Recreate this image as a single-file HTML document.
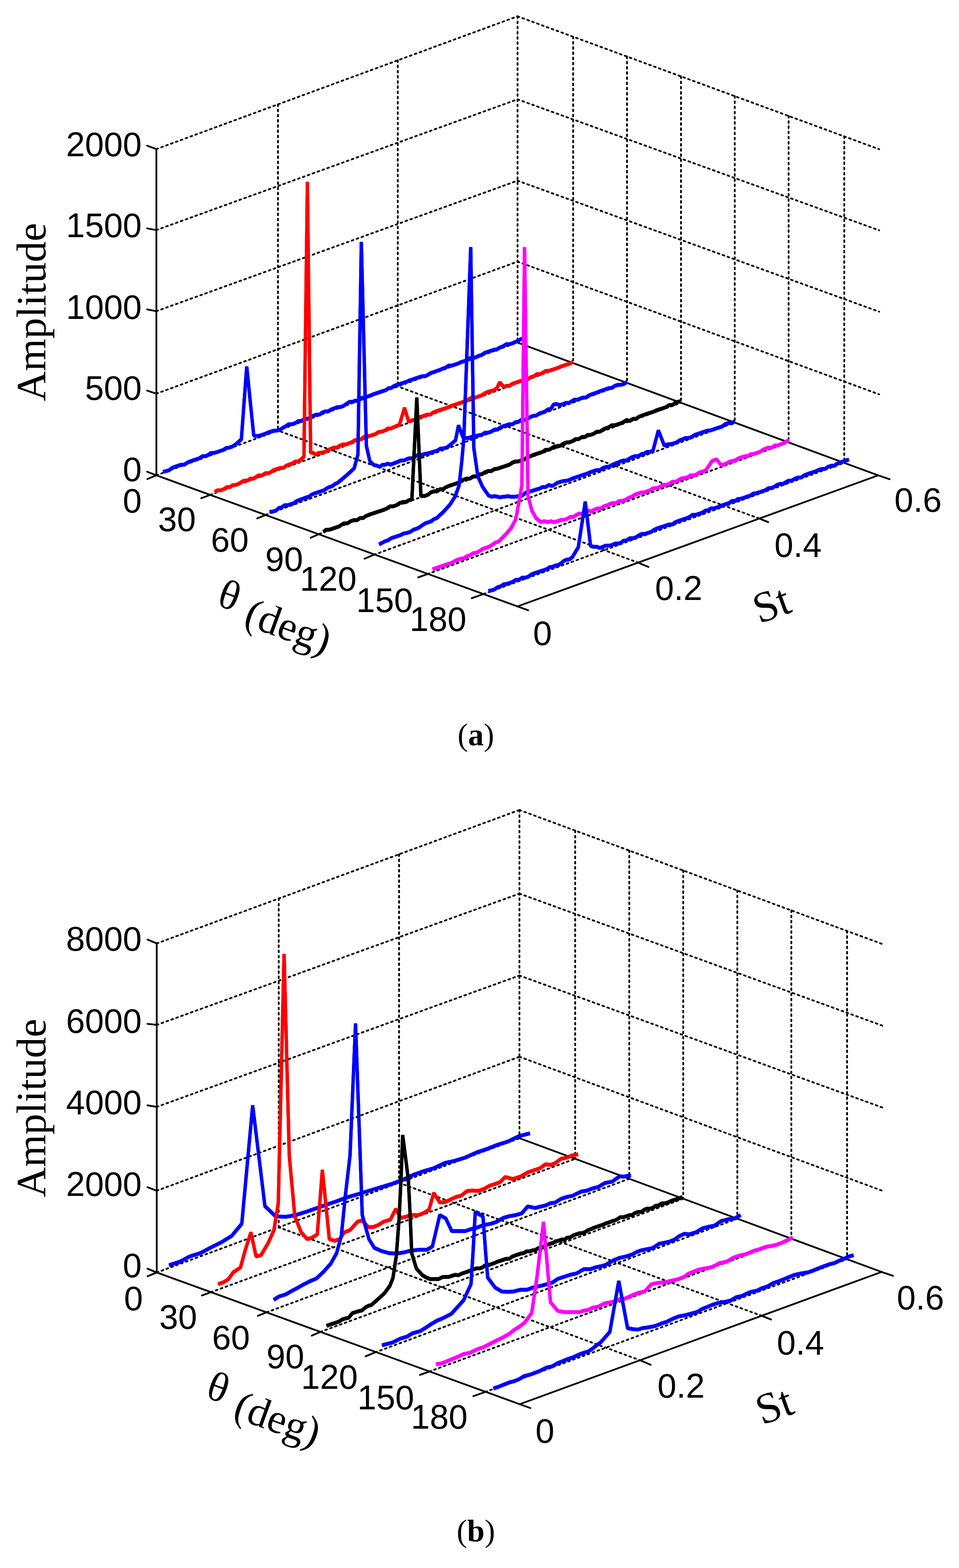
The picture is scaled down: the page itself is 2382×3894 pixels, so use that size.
<!DOCTYPE html>
<html lang="en"><head><meta charset="utf-8"><title>Amplitude spectra</title>
<style>
html,body{margin:0;padding:0;background:#fff}
svg{display:block}
.g{stroke:#000;stroke-width:4.4;stroke-dasharray:4.3 8.6;stroke-linecap:round;fill:none}
.a{stroke:#000;stroke-width:4.4;stroke-linecap:round;fill:none}
.k{fill:none;stroke-width:8.3;stroke-linejoin:bevel;stroke-linecap:butt}
.t{font-family:"Liberation Sans",sans-serif;font-size:84.5px;fill:#000}
.s{font-family:"Liberation Serif",serif;font-size:103.6px;fill:#000}
.c{font-family:"Liberation Serif",serif;font-size:78px;fill:#000}
</style></head>
<body>
<svg width="2382" height="3894" viewBox="0 0 2382 3894">
<rect width="2382" height="3894" fill="#fff"/>
<g id="plot-a">
<line x1="388.4" y1="1180.4" x2="1285.5" y2="850.5" class="g"/>
<line x1="388.4" y1="977.6" x2="1285.5" y2="649.7" class="g"/>
<line x1="388.4" y1="772.8" x2="1285.5" y2="448.7" class="g"/>
<line x1="388.4" y1="571.3" x2="1285.5" y2="246.7" class="g"/>
<line x1="388.4" y1="370.2" x2="1285.5" y2="40.5" class="g"/>
<line x1="1285.5" y1="649.7" x2="2183.6" y2="979.3" class="g"/>
<line x1="1285.5" y1="448.7" x2="2183.6" y2="774" class="g"/>
<line x1="1285.5" y1="246.7" x2="2183.6" y2="572" class="g"/>
<line x1="1285.5" y1="40.5" x2="2183.6" y2="370.6" class="g"/>
<line x1="690.4" y1="259.2" x2="690.4" y2="1069.2" class="g"/>
<line x1="988" y1="149.8" x2="988" y2="959.7" class="g"/>
<line x1="1285.5" y1="40.5" x2="1285.5" y2="850.5" class="g"/>
<line x1="1423.6" y1="91.3" x2="1423.6" y2="901.7" class="g"/>
<line x1="1557.4" y1="140.4" x2="1557.4" y2="950.9" class="g"/>
<line x1="1691.5" y1="189.7" x2="1691.5" y2="1000.3" class="g"/>
<line x1="1825" y1="238.8" x2="1825" y2="1049.4" class="g"/>
<line x1="1958.8" y1="288" x2="1958.8" y2="1098.6" class="g"/>
<line x1="2097" y1="338.8" x2="2097" y2="1149.5" class="g"/>
<line x1="522.5" y1="1228.9" x2="1423.6" y2="901.7" class="g"/>
<line x1="660.6" y1="1278.5" x2="1557.4" y2="950.9" class="g"/>
<line x1="793.2" y1="1326.1" x2="1691.5" y2="1000.3" class="g"/>
<line x1="929.2" y1="1377.5" x2="1825" y2="1049.4" class="g"/>
<line x1="1061.9" y1="1425.6" x2="1958.8" y2="1098.6" class="g"/>
<line x1="1201.5" y1="1475" x2="2097" y2="1149.5" class="g"/>
<line x1="1585.7" y1="1397.4" x2="690.4" y2="1069.2" class="g"/>
<line x1="1884.8" y1="1287.3" x2="988" y2="959.7" class="g"/>
<line x1="388.4" y1="370.2" x2="388.4" y2="1180.4" class="a"/>
<line x1="388.4" y1="1180.4" x2="1285.3" y2="1506" class="a"/>
<line x1="1285.3" y1="1506" x2="2181.3" y2="1180.5" class="a"/>
<line x1="1284.5" y1="850.5" x2="2181.3" y2="1180.5" class="a"/>
<line x1="388.4" y1="1180.4" x2="365.4" y2="1171.5" class="a"/>
<line x1="388.4" y1="977.6" x2="365.4" y2="970" class="a"/>
<line x1="388.4" y1="772.8" x2="365.4" y2="768.4" class="a"/>
<line x1="388.4" y1="571.3" x2="365.4" y2="567.2" class="a"/>
<line x1="388.4" y1="370.2" x2="365.4" y2="361.7" class="a"/>
<line x1="388.4" y1="1180.4" x2="365.9" y2="1189.7" class="a"/>
<line x1="522.5" y1="1228.9" x2="499.9" y2="1237.2" class="a"/>
<line x1="660.6" y1="1278.5" x2="638.6" y2="1287.5" class="a"/>
<line x1="793.2" y1="1326.1" x2="771.6" y2="1335.4" class="a"/>
<line x1="929.2" y1="1377.5" x2="905.3" y2="1387.5" class="a"/>
<line x1="1061.9" y1="1425.6" x2="1038.7" y2="1433.9" class="a"/>
<line x1="1201.5" y1="1475" x2="1171.6" y2="1485.6" class="a"/>
<line x1="1285.3" y1="1506" x2="1311.9" y2="1515.6" class="a"/>
<line x1="1585.7" y1="1397.4" x2="1610.6" y2="1408.1" class="a"/>
<line x1="1884.8" y1="1287.3" x2="1908" y2="1296.6" class="a"/>
<line x1="2181.3" y1="1180.5" x2="2209.6" y2="1190.1" class="a"/>
<g stroke="#0000ff" class="k"><path d="M404.8 1170.8L412.9 1169.2L420.9 1166.6L426.2 1162.1L434.1 1158.6L442 1156L450 1153.3L457.9 1153.3L465.9 1148L471.2 1145.4L479.1 1142.8L487 1140.1L495 1137.5L502.9 1132.2L510.9 1132.2L516.2 1129.5L524.1 1124.2L532 1124.2L540 1121.6L547.9 1118.9L555.9 1116.3L561.2 1111.8L569.1 1111L577 1108.3L585 1103.3L599.5 1090.2L612.8 909.8L630.2 1080.8L635.3 1081.9L643 1081.8L651.2 1079.2L658 1076.9L664.4 1073.9L672.3 1071.3L680.3 1068.6L688.2 1068.6L696.2 1066L704.1 1060.7L709.4 1058L717.3 1052.8L725.3 1052.8L733.2 1050.1L741.2 1044.8L749.1 1044.8L754.4 1040.3L762.3 1039.5L770.3 1036.9L778.2 1031.6L786.2 1028.9L794.1 1028.9L799.4 1024.4L807.3 1021L815.3 1021L823.2 1015.7L831.2 1013.1L836.5 1010.4L844.4 1010.4L852.3 1007.8L860.3 1002.5L868.2 997.2L876.2 997.2L881.5 994.5L889.4 994.5L897.3 987.8L905.3 986.6L913.2 983.9L921.2 981.3L926.4 978.6L934.4 976L942.3 973.3L950.3 970.7L958.2 968.1L966.2 962.8L971.4 962.8L979.4 957.5L987.3 954.8L995.3 952.2L1003.2 949.5L1011.2 946.9L1016.4 944.2L1024.4 941.6L1032.3 938.9L1040.3 936.3L1048.2 933.6L1056.2 933.6L1061.4 931L1069.4 925.7L1077.3 923.1L1085.3 920.4L1093.2 917.8L1098.5 915.1L1106.4 912.5L1114.4 907.2L1122.3 907.2L1130.3 904.5L1138.2 901.9L1143.5 899.2L1151.4 896.6L1159.4 893.9L1167.3 888.6L1175.3 888.6L1183.2 886L1188.5 883.3L1196.4 880.7L1204.4 875.4L1212.3 872.8L1220.3 870.1L1228.2 867.5L1233.5 867.5L1241.4 862.2L1249.4 859.5L1257.3 854.2L1265.3 854.2L1273.2 851.6L1278.5 848.9L1286.4 846.3L1294.4 841L1302 840.3"/><path d="M404.8 1172.3L412.9 1170.7L420.9 1168.1L426.2 1163.6L434.1 1160.1L442 1157.5L450 1154.8L457.9 1154.8L465.9 1149.5L471.2 1146.9L479.1 1144.3L487 1141.6L495 1139L502.9 1133.7L510.9 1133.7L516.2 1131L524.1 1125.7L532 1125.7L540 1123.1L547.9 1120.4L555.9 1117.8L561.2 1113.3L569.1 1112.5L577 1109.8L585 1104.8L599.5 1091.8L612.8 911.2L630.2 1082.2L635.3 1083.4L643 1083.2L651.2 1080.7L658 1078.4L664.4 1075.4L672.3 1072.8L680.3 1070.1L688.2 1070.1L696.2 1067.5L704.1 1062.2L709.4 1059.5L717.3 1054.3L725.3 1054.3L733.2 1051.6L741.2 1046.3L749.1 1046.3L754.4 1041.8L762.3 1041L770.3 1038.4L778.2 1033.1L786.2 1030.4L794.1 1030.4L799.4 1025.9L807.3 1022.5L815.3 1022.5L823.2 1017.2L831.2 1014.6L836.5 1011.9L844.4 1011.9L852.3 1009.3L860.3 1004L868.2 998.7L876.2 998.7L881.5 996L889.4 996L897.3 989.3L905.3 988.1L913.2 985.4L921.2 982.8L926.4 980.1L934.4 977.5L942.3 974.8L950.3 972.2L958.2 969.6L966.2 964.3L971.4 964.3L979.4 959L987.3 956.3L995.3 953.7L1003.2 951L1011.2 948.4L1016.4 945.7L1024.4 943.1L1032.3 940.4L1040.3 937.8L1048.2 935.1L1056.2 935.1L1061.4 932.5L1069.4 927.2L1077.3 924.6L1085.3 921.9L1093.2 919.3L1098.5 916.6L1106.4 914L1114.4 908.7L1122.3 908.7L1130.3 906L1138.2 903.4L1143.5 900.7L1151.4 898.1L1159.4 895.4L1167.3 890.1L1175.3 890.1L1183.2 887.5L1188.5 884.8L1196.4 882.2L1204.4 876.9L1212.3 874.3L1220.3 871.6L1228.2 869L1233.5 869L1241.4 863.7L1249.4 861L1257.3 855.7L1265.3 855.7L1273.2 853.1L1278.5 850.4L1286.4 847.8L1294.4 842.5L1302 841.8"/></g>
<g stroke="#ff0000" class="k"><path d="M533.6 1221.2L540 1216.9L547.9 1216.9L555.9 1214.2L563.8 1208.9L571.8 1208.9L577 1204.4L585 1203.6L592.9 1201L600.9 1195.7L606.2 1193L614.1 1193L622 1187.8L630 1187.8L637.9 1182.5L643.2 1179.8L651.2 1179.8L659.1 1174.5L667 1174.5L672.3 1171.9L680.3 1166.6L688.2 1163.9L696.2 1161.3L704.1 1161.3L709.4 1156.8L717.3 1153.3L725.3 1150.7L733.2 1145.4L740 1145.6L748 1140.2L755 1133.2L763.5 451.4L771.5 1123.2L778.2 1124.2L783 1127.8L791.5 1124.2L800 1123.3L807.3 1121.6L815.3 1116.3L823.2 1113.6L828.5 1111L836.5 1111L844.4 1105.7L852.3 1103L860.3 1103L865.6 1100.4L873.5 1097.8L881.5 1092.5L889.4 1092.5L897.3 1089.8L902.6 1085.3L910.6 1081.9L918.5 1081.9L926.4 1079.2L934.4 1076.6L939.7 1072.1L947.6 1071.3L955.6 1068.6L963.5 1063.3L971.4 1063.3L976.7 1060.7L985 1057L992 1054.2L1004.8 1012.2L1015 1045.8L1023 1043.2L1029.7 1042.2L1037.6 1036.9L1045.6 1034.2L1053.5 1031.6L1061.4 1028.9L1069.4 1028.9L1074.7 1024.4L1082.6 1021L1090.6 1018.3L1098.5 1015.7L1106.4 1013.1L1114.4 1010.4L1119.7 1007.8L1127.6 1005.1L1135.6 1002.5L1143.5 999.8L1151.4 997.2L1159.4 994.5L1164.7 990L1172.6 986.6L1180.6 986.6L1188.5 983.9L1196.4 981.3L1204.4 976L1209.7 973.3L1217.6 970.7L1226 968.9L1234 963.2L1241.5 948.8L1251 959.8L1259 957.4L1265.3 957.5L1273.2 952.2L1281.1 949.5L1289.1 946.9L1297 944.2L1305 941.6L1310.3 941.6L1318.2 936.3L1326.1 933.6L1334.1 928.3L1342 928.3L1347.3 925.7L1355.3 920.4L1363.2 920.4L1371.1 917.8L1379.1 915.1L1387 912.5L1392.3 909.8L1400.3 907.2L1408.2 904.5L1416.1 901.9L1423 898.2"/><path d="M533.6 1222.7L540 1218.4L547.9 1218.4L555.9 1215.7L563.8 1210.4L571.8 1210.4L577 1205.9L585 1205.1L592.9 1202.5L600.9 1197.2L606.2 1194.5L614.1 1194.5L622 1189.3L630 1189.3L637.9 1184L643.2 1181.3L651.2 1181.3L659.1 1176L667 1176L672.3 1173.4L680.3 1168.1L688.2 1165.4L696.2 1162.8L704.1 1162.8L709.4 1158.3L717.3 1154.8L725.3 1152.2L733.2 1146.9L740 1147.1L748 1141.8L755 1134.8L763.5 452.9L771.5 1124.8L778.2 1125.7L783 1129.2L791.5 1125.7L800 1124.8L807.3 1123.1L815.3 1117.8L823.2 1115.1L828.5 1112.5L836.5 1112.5L844.4 1107.2L852.3 1104.5L860.3 1104.5L865.6 1101.9L873.5 1099.3L881.5 1094L889.4 1094L897.3 1091.3L902.6 1086.8L910.6 1083.4L918.5 1083.4L926.4 1080.7L934.4 1078.1L939.7 1073.6L947.6 1072.8L955.6 1070.1L963.5 1064.8L971.4 1064.8L976.7 1062.2L985 1058.5L992 1055.8L1004.8 1013.8L1015 1047.2L1023 1044.7L1029.7 1043.7L1037.6 1038.4L1045.6 1035.7L1053.5 1033.1L1061.4 1030.4L1069.4 1030.4L1074.7 1025.9L1082.6 1022.5L1090.6 1019.8L1098.5 1017.2L1106.4 1014.6L1114.4 1011.9L1119.7 1009.3L1127.6 1006.6L1135.6 1004L1143.5 1001.3L1151.4 998.7L1159.4 996L1164.7 991.5L1172.6 988.1L1180.6 988.1L1188.5 985.4L1196.4 982.8L1204.4 977.5L1209.7 974.8L1217.6 972.2L1226 970.4L1234 964.8L1241.5 950.2L1251 961.2L1259 958.9L1265.3 959L1273.2 953.7L1281.1 951L1289.1 948.4L1297 945.7L1305 943.1L1310.3 943.1L1318.2 937.8L1326.1 935.1L1334.1 929.8L1342 929.8L1347.3 927.2L1355.3 921.9L1363.2 921.9L1371.1 919.3L1379.1 916.6L1387 914L1392.3 911.3L1400.3 908.7L1408.2 906L1416.1 903.4L1423 899.7"/></g>
<g stroke="#0000ff" class="k"><path d="M669.5 1270L677.6 1269.8L685.6 1267.2L693.5 1260.4L700 1259.3L706.7 1253.9L714.7 1253.9L722.6 1251.3L730.6 1248.6L735.9 1244.1L743.8 1240.7L751.7 1238L759 1235.2L767.6 1232.8L772.9 1228.3L780.9 1224.8L788.8 1222.2L796.7 1219.5L804.7 1216.9L812 1211.8L817.9 1208.9L825.9 1206.3L831.2 1201.8L839 1198L854.8 1185L868.1 1173.2L879.6 1162.2L889 1128.3L897.5 600.6L910 1106.5L918.7 1144.8L928 1153.7L937 1156L943.5 1158.5L950.3 1153.3L955 1153.8L963.5 1150.7L969.5 1153.2L976.7 1150.7L982.8 1148.2L990 1145.4L995.3 1142.8L1003.2 1142.8L1009.3 1140L1016.4 1137.5L1024.4 1137.5L1032.3 1132.2L1037.6 1129.5L1045.6 1129.5L1053.5 1126.9L1060 1125.6L1066.7 1124.2L1074.7 1121.6L1085.3 1118.9L1093.2 1113.6L1100 1113L1109.1 1111L1118 1104.4L1131.5 1092.8L1138.8 1055.8L1151 1087.2L1156.7 1087.2L1164.7 1087.2L1170 1084.3L1177.9 1084.5L1183.2 1081.9L1190 1080L1196.4 1079.2L1204.4 1073.9L1212.3 1073.9L1220.3 1071.3L1228.2 1066L1236.1 1066L1241.4 1061.5L1249.4 1058L1257.3 1055.4L1265.3 1052.8L1273.2 1052.8L1281.1 1047.5L1286.4 1047.5L1294.4 1042.2L1302.3 1042.2L1310.3 1039.5L1318.2 1034.2L1326.1 1031.6L1331.4 1031.6L1339.4 1026.3L1347.3 1023.6L1355 1020.7L1360.6 1015.9L1367.4 1015.5L1375.4 1003.5L1381.7 1002.5L1389.7 1005.1L1396.6 1003.5L1405.6 999.8L1413.5 999.8L1420.5 995.5L1426.7 991.9L1434.7 991.9L1440 989.6L1447.9 986.6L1455.8 986.6L1461.1 982.1L1469.1 978.6L1477 976L1485 973.3L1490.3 970.7L1498.2 968.1L1506.1 965.4L1514.1 962.8L1519.4 962.8L1527.3 957.5L1535.3 954.8L1543.2 954.8L1551.1 952.2L1557.3 947.6"/><path d="M669.5 1271.5L677.6 1271.3L685.6 1268.7L693.5 1261.9L700 1260.8L706.7 1255.4L714.7 1255.4L722.6 1252.8L730.6 1250.1L735.9 1245.6L743.8 1242.2L751.7 1239.5L759 1236.7L767.6 1234.3L772.9 1229.8L780.9 1226.3L788.8 1223.7L796.7 1221L804.7 1218.4L812 1213.3L817.9 1210.4L825.9 1207.8L831.2 1203.3L839 1199.5L854.8 1186.5L868.1 1174.7L879.6 1163.8L889 1129.8L897.5 602.1L910 1108L918.7 1146.2L928 1155.2L937 1157.5L943.5 1160L950.3 1154.8L955 1155.3L963.5 1152.2L969.5 1154.8L976.7 1152.2L982.8 1149.8L990 1146.9L995.3 1144.3L1003.2 1144.3L1009.3 1141.5L1016.4 1139L1024.4 1139L1032.3 1133.7L1037.6 1131L1045.6 1131L1053.5 1128.4L1060 1127.1L1066.7 1125.7L1074.7 1123.1L1085.3 1120.4L1093.2 1115.1L1100 1114.5L1109.1 1112.5L1118 1105.9L1131.5 1094.2L1138.8 1057.3L1151 1088.8L1156.7 1088.7L1164.7 1088.7L1170 1085.8L1177.9 1086L1183.2 1083.4L1190 1081.5L1196.4 1080.7L1204.4 1075.4L1212.3 1075.4L1220.3 1072.8L1228.2 1067.5L1236.1 1067.5L1241.4 1063L1249.4 1059.5L1257.3 1056.9L1265.3 1054.3L1273.2 1054.3L1281.1 1049L1286.4 1049L1294.4 1043.7L1302.3 1043.7L1310.3 1041L1318.2 1035.7L1326.1 1033.1L1331.4 1033.1L1339.4 1027.8L1347.3 1025.1L1355 1022.2L1360.6 1017.4L1367.4 1017L1375.4 1005L1381.7 1004L1389.7 1006.6L1396.6 1005L1405.6 1001.3L1413.5 1001.3L1420.5 997L1426.7 993.4L1434.7 993.4L1440 991.1L1447.9 988.1L1455.8 988.1L1461.1 983.6L1469.1 980.1L1477 977.5L1485 974.8L1490.3 972.2L1498.2 969.6L1506.1 966.9L1514.1 964.3L1519.4 964.3L1527.3 959L1535.3 956.3L1543.2 956.3L1551.1 953.7L1557.3 949.1"/></g>
<g stroke="#000000" class="k"><path d="M803.1 1319.8L810 1314.8L817.9 1314.8L825.9 1312.2L833.8 1309.5L841.7 1306.9L849.7 1301.6L855 1298.9L862.9 1298.9L870.9 1293.6L878.8 1291L886.7 1291L894.7 1285.7L902.6 1285.7L907.9 1281.2L915.9 1277.8L923.8 1275.1L931.7 1272.5L939.7 1269.8L947.6 1267.2L955.6 1264.5L960.9 1261.9L968.8 1256.6L976.7 1256.6L984.7 1253.9L992.6 1248.6L1000.6 1246L1008.5 1246L1015 1241.7L1023 1239.8L1035.3 987L1045.5 1231.2L1056 1230.8L1064.1 1227.2L1070 1222.2L1077.3 1219.5L1085.3 1219.5L1093.2 1214.2L1101.2 1214.2L1106.4 1209.7L1114.4 1206.3L1122.3 1203.6L1130.3 1201L1138.2 1198.3L1146.2 1193L1151.4 1190.4L1159.4 1187.8L1167.3 1187.8L1175.3 1182.5L1183.2 1182.5L1191.1 1177.2L1196.4 1177.2L1204.4 1171.9L1212.3 1169.2L1220.3 1169.2L1228.2 1163.9L1233.5 1163.9L1241.4 1161.3L1249.4 1158.6L1257.3 1156L1265.3 1153.3L1273.2 1148L1278.5 1145.4L1286.4 1145.4L1294.4 1142.8L1302.3 1140.1L1310.3 1134.8L1318.2 1132.2L1323.5 1129.5L1331.4 1126.9L1339.4 1124.2L1347.3 1121.6L1355.3 1116.3L1363.2 1116.3L1368.5 1113.6L1376.4 1108.3L1384.4 1108.3L1392.3 1105.7L1400.3 1100.4L1408.2 1097.8L1413.5 1097.8L1421.4 1095.1L1429.4 1089.8L1437.3 1089.8L1445.3 1084.5L1453.2 1084.5L1458.5 1080L1466.4 1079.2L1474.4 1076.6L1482.3 1071.3L1490.3 1071.3L1498.2 1066L1503.5 1063.3L1511.4 1060.7L1519.4 1055.4L1527.3 1055.4L1535.3 1052.8L1543.2 1050.1L1548.5 1047.5L1556.4 1042.2L1564.4 1044.8L1572.3 1039.5L1580.3 1039.5L1585.6 1035L1593.5 1031.6L1601.4 1028.9L1609.4 1026.3L1617.3 1023.6L1625.3 1021L1630.6 1018.3L1638.5 1015.7L1646.4 1013.1L1654.4 1010.4L1662.3 1005.1L1670.3 1005.1L1675.6 1000.6L1683.5 997.2L1691.7 995.7"/><path d="M803.1 1321.3L810 1316.3L817.9 1316.3L825.9 1313.7L833.8 1311L841.7 1308.4L849.7 1303.1L855 1300.4L862.9 1300.4L870.9 1295.1L878.8 1292.5L886.7 1292.5L894.7 1287.2L902.6 1287.2L907.9 1282.7L915.9 1279.3L923.8 1276.6L931.7 1274L939.7 1271.3L947.6 1268.7L955.6 1266L960.9 1263.4L968.8 1258.1L976.7 1258.1L984.7 1255.4L992.6 1250.1L1000.6 1247.5L1008.5 1247.5L1015 1243.2L1023 1241.2L1035.3 988.5L1045.5 1232.8L1056 1232.2L1064.1 1228.7L1070 1223.7L1077.3 1221L1085.3 1221L1093.2 1215.7L1101.2 1215.7L1106.4 1211.2L1114.4 1207.8L1122.3 1205.1L1130.3 1202.5L1138.2 1199.8L1146.2 1194.5L1151.4 1191.9L1159.4 1189.3L1167.3 1189.3L1175.3 1184L1183.2 1184L1191.1 1178.7L1196.4 1178.7L1204.4 1173.4L1212.3 1170.7L1220.3 1170.7L1228.2 1165.4L1233.5 1165.4L1241.4 1162.8L1249.4 1160.1L1257.3 1157.5L1265.3 1154.8L1273.2 1149.5L1278.5 1146.9L1286.4 1146.9L1294.4 1144.3L1302.3 1141.6L1310.3 1136.3L1318.2 1133.7L1323.5 1131L1331.4 1128.4L1339.4 1125.7L1347.3 1123.1L1355.3 1117.8L1363.2 1117.8L1368.5 1115.1L1376.4 1109.8L1384.4 1109.8L1392.3 1107.2L1400.3 1101.9L1408.2 1099.3L1413.5 1099.3L1421.4 1096.6L1429.4 1091.3L1437.3 1091.3L1445.3 1086L1453.2 1086L1458.5 1081.5L1466.4 1080.7L1474.4 1078.1L1482.3 1072.8L1490.3 1072.8L1498.2 1067.5L1503.5 1064.8L1511.4 1062.2L1519.4 1056.9L1527.3 1056.9L1535.3 1054.3L1543.2 1051.6L1548.5 1049L1556.4 1043.7L1564.4 1046.3L1572.3 1041L1580.3 1041L1585.6 1036.5L1593.5 1033.1L1601.4 1030.4L1609.4 1027.8L1617.3 1025.1L1625.3 1022.5L1630.6 1019.8L1638.5 1017.2L1646.4 1014.6L1654.4 1011.9L1662.3 1006.6L1670.3 1006.6L1675.6 1002.1L1683.5 998.7L1691.7 997.2"/></g>
<g stroke="#0000ff" class="k"><path d="M941.5 1351.2L950.3 1346.6L955.6 1343.9L963.5 1341.3L971.4 1336L979.4 1333.3L987.3 1330.7L995.3 1328L1002.7 1324.2L1011.2 1322.8L1019.1 1320.1L1027 1314.8L1035 1312.2L1042 1308.7L1048.2 1304.2L1056.2 1298.9L1064.1 1296.3L1072 1293.2L1077.3 1288.7L1085.3 1285.7L1093.2 1277.8L1098.6 1273.2L1117 1253.2L1130.2 1232.8L1140.2 1205.2L1147 1145L1152 1088.5L1169.2 613.5L1176.9 1111.8L1186.8 1181.5L1198.4 1208L1213.4 1229.7L1220.3 1232.8L1228.3 1231.2L1236.1 1232.8L1241.6 1234.5L1249.4 1232.8L1254.7 1232.8L1261.5 1231.2L1267.9 1232.8L1275.9 1232.8L1281.1 1232.8L1288 1231.3L1297 1230.1L1305 1223.7L1312.9 1219.5L1318.2 1219.5L1326.1 1216.9L1334.1 1214.2L1340 1212.9L1347.3 1208.9L1355.3 1208.9L1363.2 1203.6L1371.1 1206.3L1376.4 1203.6L1384.4 1198.3L1392.3 1195.7L1400 1193.8L1408.2 1193L1416.1 1190.4L1421.4 1187.8L1429.4 1185.1L1437.3 1182.5L1445.3 1179.8L1453.2 1177.2L1460 1174.8L1466.4 1171.9L1474.4 1169.2L1482.3 1166.6L1490.3 1166.6L1498.2 1161.3L1506.1 1158.6L1511.4 1158.6L1520 1154.3L1527.3 1150.7L1535.3 1148L1540.6 1145.4L1548.5 1142.8L1556.4 1142.8L1564.4 1137.5L1569.7 1134.8L1577.6 1132.2L1585.6 1132.2L1593.5 1126.9L1600 1125.9L1606.7 1121.6L1614.7 1121.6L1622 1118L1635.3 1068.2L1650.2 1106.3L1657 1103L1665 1102.5L1672.9 1100.4L1680.8 1097.8L1688.8 1092.5L1696.7 1089.8L1702 1087.2L1710 1087.2L1717.9 1084.5L1725.8 1079.2L1733.8 1076.6L1741.7 1073.9L1749.7 1071.3L1757.6 1068.6L1762.9 1068.6L1770.8 1066L1778.8 1063.3L1786.7 1060.7L1794.7 1058L1802.6 1051.3L1810.5 1050.1L1818.5 1050.1L1825.1 1045"/><path d="M941.5 1352.7L950.3 1348.1L955.6 1345.4L963.5 1342.8L971.4 1337.5L979.4 1334.8L987.3 1332.2L995.3 1329.5L1002.7 1325.7L1011.2 1324.2L1019.1 1321.6L1027 1316.3L1035 1313.7L1042 1310.2L1048.2 1305.7L1056.2 1300.4L1064.1 1297.8L1072 1294.8L1077.3 1290.2L1085.3 1287.2L1093.2 1279.3L1098.6 1274.8L1117 1254.8L1130.2 1234.2L1140.2 1206.8L1147 1146.5L1152 1090L1169.2 615L1176.9 1113.3L1186.8 1183L1198.4 1209.5L1213.4 1231.2L1220.3 1234.3L1228.3 1232.8L1236.1 1234.3L1241.6 1236L1249.4 1234.3L1254.7 1234.3L1261.5 1232.8L1267.9 1234.3L1275.9 1234.3L1281.1 1234.3L1288 1232.8L1297 1231.6L1305 1225.2L1312.9 1221L1318.2 1221L1326.1 1218.4L1334.1 1215.7L1340 1214.4L1347.3 1210.4L1355.3 1210.4L1363.2 1205.1L1371.1 1207.8L1376.4 1205.1L1384.4 1199.8L1392.3 1197.2L1400 1195.3L1408.2 1194.5L1416.1 1191.9L1421.4 1189.3L1429.4 1186.6L1437.3 1184L1445.3 1181.3L1453.2 1178.7L1460 1176.3L1466.4 1173.4L1474.4 1170.7L1482.3 1168.1L1490.3 1168.1L1498.2 1162.8L1506.1 1160.1L1511.4 1160.1L1520 1155.8L1527.3 1152.2L1535.3 1149.5L1540.6 1146.9L1548.5 1144.3L1556.4 1144.3L1564.4 1139L1569.7 1136.3L1577.6 1133.7L1585.6 1133.7L1593.5 1128.4L1600 1127.4L1606.7 1123.1L1614.7 1123.1L1622 1119.5L1635.3 1069.8L1650.2 1107.8L1657 1104.5L1665 1104L1672.9 1101.9L1680.8 1099.3L1688.8 1094L1696.7 1091.3L1702 1088.7L1710 1088.7L1717.9 1086L1725.8 1080.7L1733.8 1078.1L1741.7 1075.4L1749.7 1072.8L1757.6 1070.1L1762.9 1070.1L1770.8 1067.5L1778.8 1064.8L1786.7 1062.2L1794.7 1059.5L1802.6 1052.8L1810.5 1051.6L1818.5 1051.6L1825.1 1046.5"/></g>
<g stroke="#ff00ff" class="k"><path d="M1074.5 1413.2L1082.6 1410.1L1090.6 1407.5L1098.5 1404.8L1106.4 1402.2L1114.4 1399.5L1122.3 1396.9L1130 1392.4L1138.2 1388.9L1146.2 1386.3L1151.4 1386.3L1159.4 1381L1167.3 1378.3L1175.3 1373L1183 1372L1191.1 1367.7L1199.1 1362.5L1207 1359.8L1215 1356.9L1222.9 1351.9L1230.9 1346.6L1238.8 1344L1258.1 1324.2L1270 1310.2L1281.4 1287.7L1289 1245.2L1296.3 1204.8L1302.9 613.5L1311.5 1230.2L1321 1267.2L1331 1285.2L1343 1295.8L1352.6 1293.6L1360 1296L1368.5 1293.6L1376.4 1296.3L1384.4 1293.6L1392.3 1291L1400 1290.2L1408.2 1288.3L1416.1 1283L1424.1 1283L1432 1277.8L1437.3 1275.1L1445.3 1275.1L1453.2 1269.8L1461.1 1267.2L1469.1 1269.8L1477 1264.5L1485 1261.9L1492.9 1261.9L1500 1256.6L1508.8 1253.9L1514.1 1251.3L1522 1248.6L1530 1248.6L1537.9 1243.3L1545.8 1243.3L1553.8 1240.7L1561.7 1235.4L1569.7 1232.8L1577.6 1227.5L1585.6 1224.8L1593.5 1222.2L1600 1222.1L1606.7 1219.5L1614.7 1216.9L1622.6 1211.6L1630.6 1211.6L1638.5 1208.9L1646.4 1203.6L1654.4 1203.6L1662.3 1201L1670.3 1195.7L1678.2 1195.7L1683.5 1193L1691.4 1187.8L1700 1186.5L1707.3 1185.1L1715.3 1179.8L1723.2 1179.8L1731.1 1177.2L1736.4 1172.7L1745 1170.5L1753.1 1167.3L1769 1143.8L1780 1140L1790.5 1153.5L1797.3 1153.3L1805 1149.8L1813.2 1145.4L1820 1144.1L1826.4 1142.8L1834.4 1137.5L1842.3 1134.8L1850.3 1132.2L1858.2 1132.2L1863.5 1127.7L1871.4 1126.9L1879.4 1124.2L1887.3 1121.6L1895.3 1116.3L1900.5 1113.6L1908.5 1111L1916.4 1111L1924.4 1105.7L1932.3 1105.7L1937.6 1103L1945.5 1100.4L1953.5 1095.1L1961.1 1093.5"/><path d="M1074.5 1414.7L1082.6 1411.6L1090.6 1409L1098.5 1406.3L1106.4 1403.7L1114.4 1401L1122.3 1398.4L1130 1393.9L1138.2 1390.4L1146.2 1387.8L1151.4 1387.8L1159.4 1382.5L1167.3 1379.8L1175.3 1374.5L1183 1373.5L1191.1 1369.2L1199.1 1364L1207 1361.3L1215 1358.4L1222.9 1353.4L1230.9 1348.1L1238.8 1345.5L1258.1 1325.7L1270 1311.8L1281.4 1289.2L1289 1246.8L1296.3 1206.2L1302.9 615L1311.5 1231.8L1321 1268.8L1331 1286.8L1343 1297.2L1352.6 1295.1L1360 1297.5L1368.5 1295.1L1376.4 1297.8L1384.4 1295.1L1392.3 1292.5L1400 1291.7L1408.2 1289.8L1416.1 1284.5L1424.1 1284.5L1432 1279.3L1437.3 1276.6L1445.3 1276.6L1453.2 1271.3L1461.1 1268.7L1469.1 1271.3L1477 1266L1485 1263.4L1492.9 1263.4L1500 1258.1L1508.8 1255.4L1514.1 1252.8L1522 1250.1L1530 1250.1L1537.9 1244.8L1545.8 1244.8L1553.8 1242.2L1561.7 1236.9L1569.7 1234.3L1577.6 1229L1585.6 1226.3L1593.5 1223.7L1600 1223.6L1606.7 1221L1614.7 1218.4L1622.6 1213.1L1630.6 1213.1L1638.5 1210.4L1646.4 1205.1L1654.4 1205.1L1662.3 1202.5L1670.3 1197.2L1678.2 1197.2L1683.5 1194.5L1691.4 1189.3L1700 1188L1707.3 1186.6L1715.3 1181.3L1723.2 1181.3L1731.1 1178.7L1736.4 1174.2L1745 1172L1753.1 1168.8L1769 1145.2L1780 1141.5L1790.5 1155L1797.3 1154.8L1805 1151.2L1813.2 1146.9L1820 1145.6L1826.4 1144.3L1834.4 1139L1842.3 1136.3L1850.3 1133.7L1858.2 1133.7L1863.5 1129.2L1871.4 1128.4L1879.4 1125.7L1887.3 1123.1L1895.3 1117.8L1900.5 1115.1L1908.5 1112.5L1916.4 1112.5L1924.4 1107.2L1932.3 1107.2L1937.6 1104.5L1945.5 1101.9L1953.5 1096.6L1961.1 1095"/></g>
<g stroke="#0000ff" class="k"><path d="M1212.9 1466.6L1220.3 1465.7L1228.2 1463L1236.1 1457.7L1244.1 1455.1L1252 1449.8L1257.3 1449.8L1265.3 1447.2L1273.2 1444.5L1281.1 1439.2L1289.1 1439.2L1297 1433.9L1305 1433.9L1312.9 1431.3L1318.2 1426.8L1326.1 1423.3L1334.1 1420.7L1342 1418L1350 1415.4L1357.9 1412.7L1365.9 1407.5L1371.1 1407.5L1380 1403.6L1387 1402.2L1395 1396.9L1400.3 1392.4L1408.2 1388.9L1413.5 1388.9L1421.5 1383.2L1436.4 1358.2L1453.7 1245.5L1466.9 1355L1474.4 1357.2L1482.3 1357.2L1489.5 1360L1498.2 1357.2L1503.5 1354.5L1511.4 1354.5L1520 1353L1527.3 1349.2L1535.3 1349.2L1543.2 1346.6L1548.5 1342.1L1556.4 1341.3L1564.4 1336L1572.3 1336L1580.3 1333.3L1588.2 1328L1593.5 1325.4L1601.4 1325.4L1609.4 1322.8L1617.3 1320.1L1625.3 1314.8L1630.6 1312.2L1638.5 1309.5L1646.4 1306.9L1654.4 1304.2L1662.3 1301.6L1670.3 1301.6L1675.6 1297.1L1683.5 1293.6L1691.4 1291L1699.4 1288.3L1707.3 1285.7L1712.6 1283L1720.5 1277.8L1728.5 1277.8L1736.4 1275.1L1744.4 1272.5L1752.3 1267.2L1757.6 1267.2L1765.5 1261.9L1773.5 1261.9L1781.4 1259.2L1789.4 1256.6L1794.7 1253.9L1802.6 1251.3L1810.5 1248.6L1818.5 1243.3L1826.4 1243.3L1831.7 1238.8L1839.7 1238L1847.6 1235.4L1855.5 1232.8L1863.5 1230.1L1871.4 1224.8L1876.7 1224.8L1884.7 1222.2L1892.6 1219.5L1900.5 1216.9L1908.5 1211.6L1913.8 1211.6L1921.7 1208.9L1929.7 1203.6L1937.6 1201L1945.5 1201L1953.5 1195.7L1958.8 1193L1966.7 1193L1974.7 1187.8L1982.6 1185.1L1990.5 1185.1L1995.8 1180.6L2003.8 1177.2L2011.7 1174.5L2019.7 1171.9L2027.6 1169.2L2032.9 1166.6L2040.8 1163.9L2048.8 1163.9L2056.7 1158.6L2064.7 1156L2072.6 1156L2077.9 1151.5L2085.8 1148L2093.8 1145.4L2101.7 1142.8L2108.7 1140.2"/><path d="M1212.9 1468.1L1220.3 1467.2L1228.2 1464.5L1236.1 1459.2L1244.1 1456.6L1252 1451.3L1257.3 1451.3L1265.3 1448.7L1273.2 1446L1281.1 1440.7L1289.1 1440.7L1297 1435.4L1305 1435.4L1312.9 1432.8L1318.2 1428.3L1326.1 1424.8L1334.1 1422.2L1342 1419.5L1350 1416.9L1357.9 1414.2L1365.9 1409L1371.1 1409L1380 1405.1L1387 1403.7L1395 1398.4L1400.3 1393.9L1408.2 1390.4L1413.5 1390.4L1421.5 1384.7L1436.4 1359.8L1453.7 1247L1466.9 1356.5L1474.4 1358.7L1482.3 1358.7L1489.5 1361.5L1498.2 1358.7L1503.5 1356L1511.4 1356L1520 1354.5L1527.3 1350.7L1535.3 1350.7L1543.2 1348.1L1548.5 1343.6L1556.4 1342.8L1564.4 1337.5L1572.3 1337.5L1580.3 1334.8L1588.2 1329.5L1593.5 1326.9L1601.4 1326.9L1609.4 1324.2L1617.3 1321.6L1625.3 1316.3L1630.6 1313.7L1638.5 1311L1646.4 1308.4L1654.4 1305.7L1662.3 1303.1L1670.3 1303.1L1675.6 1298.6L1683.5 1295.1L1691.4 1292.5L1699.4 1289.8L1707.3 1287.2L1712.6 1284.5L1720.5 1279.3L1728.5 1279.3L1736.4 1276.6L1744.4 1274L1752.3 1268.7L1757.6 1268.7L1765.5 1263.4L1773.5 1263.4L1781.4 1260.7L1789.4 1258.1L1794.7 1255.4L1802.6 1252.8L1810.5 1250.1L1818.5 1244.8L1826.4 1244.8L1831.7 1240.3L1839.7 1239.5L1847.6 1236.9L1855.5 1234.3L1863.5 1231.6L1871.4 1226.3L1876.7 1226.3L1884.7 1223.7L1892.6 1221L1900.5 1218.4L1908.5 1213.1L1913.8 1213.1L1921.7 1210.4L1929.7 1205.1L1937.6 1202.5L1945.5 1202.5L1953.5 1197.2L1958.8 1194.5L1966.7 1194.5L1974.7 1189.3L1982.6 1186.6L1990.5 1186.6L1995.8 1182.1L2003.8 1178.7L2011.7 1176L2019.7 1173.4L2027.6 1170.7L2032.9 1168.1L2040.8 1165.4L2048.8 1165.4L2056.7 1160.1L2064.7 1157.5L2072.6 1157.5L2077.9 1153L2085.8 1149.5L2093.8 1146.9L2101.7 1144.3L2108.7 1141.7"/></g>
<text x="352" y="1194.8" class="t" text-anchor="end">0</text>
<text x="352" y="993.1" class="t" text-anchor="end">500</text>
<text x="352" y="791.9" class="t" text-anchor="end">1000</text>
<text x="352" y="589.4" class="t" text-anchor="end">1500</text>
<text x="352" y="388.1" class="t" text-anchor="end">2000</text>
<text x="351.9" y="1273.1" class="t" text-anchor="end">0</text>
<text x="486.5" y="1319.3" class="t" text-anchor="end">30</text>
<text x="617.8" y="1370" class="t" text-anchor="end">60</text>
<text x="752.7" y="1417.7" class="t" text-anchor="end">90</text>
<text x="885.8" y="1467" class="t" text-anchor="end">120</text>
<text x="1025.8" y="1519.5" class="t" text-anchor="end">150</text>
<text x="1158.5" y="1567" class="t" text-anchor="end">180</text>
<text x="1324" y="1602.1" class="t">0</text>
<text x="1627.1" y="1490.4" class="t">0.2</text>
<text x="1923.5" y="1383" class="t">0.4</text>
<text x="2221.5" y="1270.7" class="t">0.6</text>
<text x="112.6" y="775" class="s" text-anchor="middle" transform="rotate(-90 112.6 775)">Amplitude</text>
<text x="535.4" y="1502" class="s" transform="rotate(20 535.4 1502)">θ</text>
<text x="602" y="1550.3" class="s" transform="rotate(20 602 1550.3)">(deg)</text>
<text x="1886" y="1549.5" class="s" transform="rotate(-20 1886 1549.5)" style="font-size:108px">St</text>
<text x="1182" y="1850.5" class="c" text-anchor="middle">(<tspan font-weight="bold">a</tspan>)</text>
</g>
<g id="plot-b">
<line x1="389.3" y1="3160.1" x2="1290.2" y2="2826.8" class="g"/>
<line x1="389.3" y1="2957.1" x2="1290.2" y2="2624.4" class="g"/>
<line x1="389.3" y1="2748.9" x2="1290.2" y2="2422.6" class="g"/>
<line x1="389.3" y1="2545.3" x2="1290.2" y2="2219.2" class="g"/>
<line x1="389.3" y1="2342.9" x2="1290.2" y2="2011.6" class="g"/>
<line x1="1290.2" y1="2624.4" x2="2191.5" y2="2957.1" class="g"/>
<line x1="1290.2" y1="2422.6" x2="2191.5" y2="2750.4" class="g"/>
<line x1="1290.2" y1="2219.2" x2="2191.5" y2="2547" class="g"/>
<line x1="1290.2" y1="2011.6" x2="2191.5" y2="2344.4" class="g"/>
<line x1="692.3" y1="2231.5" x2="692.3" y2="3048" class="g"/>
<line x1="991.2" y1="2121.6" x2="991.2" y2="2937.5" class="g"/>
<line x1="1290.2" y1="2011.6" x2="1290.2" y2="2826.8" class="g"/>
<line x1="1428.6" y1="2062.7" x2="1428.6" y2="2877.8" class="g"/>
<line x1="1563" y1="2112.3" x2="1563" y2="2927.4" class="g"/>
<line x1="1697" y1="2161.8" x2="1697" y2="2976.9" class="g"/>
<line x1="1831.4" y1="2211.4" x2="1831.4" y2="3026.5" class="g"/>
<line x1="1965.5" y1="2261" x2="1965.5" y2="3076" class="g"/>
<line x1="2104" y1="2312.1" x2="2104" y2="3127.1" class="g"/>
<line x1="524" y1="3209" x2="1428.6" y2="2877.8" class="g"/>
<line x1="662.6" y1="3258.8" x2="1563" y2="2927.4" class="g"/>
<line x1="795.9" y1="3307.6" x2="1697" y2="2976.9" class="g"/>
<line x1="932" y1="3358.4" x2="1831.4" y2="3026.5" class="g"/>
<line x1="1066.3" y1="3406.1" x2="1965.5" y2="3076" class="g"/>
<line x1="1205.5" y1="3456.7" x2="2104" y2="3127.1" class="g"/>
<line x1="1591.5" y1="3378.7" x2="692.3" y2="3048" class="g"/>
<line x1="1891.8" y1="3267.6" x2="991.2" y2="2937.5" class="g"/>
<line x1="389.3" y1="2342.9" x2="389.3" y2="3160.1" class="a"/>
<line x1="389.3" y1="3160.1" x2="1290.8" y2="3487.2" class="a"/>
<line x1="1290.8" y1="3487.2" x2="2189.8" y2="3158.8" class="a"/>
<line x1="1290.5" y1="2826.8" x2="2189.8" y2="3158.8" class="a"/>
<line x1="389.3" y1="3160.1" x2="366.3" y2="3150.6" class="a"/>
<line x1="389.3" y1="2957.1" x2="366.3" y2="2948.2" class="a"/>
<line x1="389.3" y1="2748.9" x2="366.3" y2="2745" class="a"/>
<line x1="389.3" y1="2545.3" x2="366.3" y2="2542.6" class="a"/>
<line x1="389.3" y1="2342.9" x2="366.3" y2="2333.3" class="a"/>
<line x1="389.3" y1="3160.1" x2="366.8" y2="3169.4" class="a"/>
<line x1="524" y1="3209" x2="501.4" y2="3217.3" class="a"/>
<line x1="662.6" y1="3258.8" x2="640.6" y2="3267.8" class="a"/>
<line x1="795.9" y1="3307.6" x2="774.3" y2="3316.9" class="a"/>
<line x1="932" y1="3358.4" x2="908.1" y2="3368.4" class="a"/>
<line x1="1066.3" y1="3406.1" x2="1043.1" y2="3414.4" class="a"/>
<line x1="1205.5" y1="3456.7" x2="1175.6" y2="3467.3" class="a"/>
<line x1="1290.8" y1="3487.2" x2="1317.4" y2="3496.8" class="a"/>
<line x1="1591.5" y1="3378.7" x2="1616.4" y2="3389.4" class="a"/>
<line x1="1891.8" y1="3267.6" x2="1915" y2="3276.9" class="a"/>
<line x1="2189.8" y1="3158.8" x2="2218.1" y2="3168.4" class="a"/>
<g stroke="#0000ff" class="k"><path d="M419.8 3141.2L446.4 3132.8L471.2 3119.6L497.8 3111.2L522.7 3097.9L549.2 3084.8L575.8 3068.2L600.6 3038.2L627.6 2744.7L658 2994.4L684.6 3020.1L710.1 3021.1L735 3016.8L761.5 3008.4L788.1 2999.2L812.6 2990.4L836.5 2982.4L860 2973.6L893.2 2963.7L918.5 2955.9L945 2948L971.4 2940.1L997.7 2930.4L1025.9 2917.2L1050.9 2908.3L1077.3 2900.6L1105.5 2887.3L1128.7 2882.3L1155.3 2874.1L1185.1 2860.8L1209.7 2852.7L1236.1 2842.1L1261.6 2834.3L1288.2 2821.1L1316.4 2813.8"/><path d="M419.8 3142.7L446.4 3134.3L471.2 3121.1L497.8 3112.8L522.7 3099.4L549.2 3086.2L575.8 3069.7L600.6 3039.8L627.6 2746.2L658 2995.9L684.6 3021.6L710.1 3022.6L735 3018.2L761.5 3009.9L788.1 3000.7L812.6 2991.9L836.5 2983.9L860 2975.1L893.2 2965.2L918.5 2957.4L945 2949.5L971.4 2941.6L997.7 2931.9L1025.9 2918.7L1050.9 2909.8L1077.3 2902.1L1105.5 2888.8L1128.7 2883.8L1155.3 2875.6L1185.1 2862.2L1209.7 2854.2L1236.1 2843.6L1261.6 2835.8L1288.2 2822.6L1316.4 2815.2"/></g>
<g stroke="#ff0000" class="k"><path d="M541.6 3188.2L554.2 3184.2L567.5 3175.9L579.1 3159.3L597.3 3147.1L608.9 3104.7L623.2 3059.8L636.1 3119.6L648.7 3116.2L666 3086.3L680.3 3054.8L691.2 2986.8L705.6 2368.8L718.5 2869.1L732.4 3021.1L748.3 3059.8L763.2 3076.4L774.8 3073.2L788.1 3064.8L800.7 2904.8L818 3076.4L831.2 3080.8L844.5 3076.4L854.5 3059.8L869.5 3054.1L888.2 3033.2L899.8 3029.9L914.7 3046.6L926.4 3046.6L939.6 3041.6L952.9 3033.2L969.5 3028.3L982.8 3001.8L996 3024.2L1011 3020.1L1022.6 3016.8L1039.2 3016.8L1052.4 3011.8L1065.7 3003.4L1077.3 2961.9L1092.3 2985.2L1103.9 2985.2L1122.1 2976.8L1132.9 2971.8L1145.3 2968.7L1160.3 2956.9L1175.3 2955.9L1188.5 2956.9L1201.7 2952.1L1216.7 2943.8L1228.2 2940.1L1241.6 2935.4L1254.8 2922.2L1273.1 2927.2L1283.8 2924.2L1294.6 2920.4L1311.2 2910.6L1326.1 2905.7L1341.1 2900.6L1354.9 2890.7L1368.2 2892.2L1379.8 2887.3L1393.1 2877.3L1408.2 2873.9L1421.4 2868.6L1436.2 2865.8"/><path d="M541.6 3189.8L554.2 3185.8L567.5 3177.4L579.1 3160.8L597.3 3148.6L608.9 3106.2L623.2 3061.3L636.1 3121.1L648.7 3117.8L666 3087.8L680.3 3056.3L691.2 2988.3L705.6 2370.3L718.5 2870.6L732.4 3022.6L748.3 3061.3L763.2 3077.9L774.8 3074.7L788.1 3066.3L800.7 2906.3L818 3077.9L831.2 3082.2L844.5 3077.9L854.5 3061.3L869.5 3055.6L888.2 3034.8L899.8 3031.4L914.7 3048.1L926.4 3048.1L939.6 3043.1L952.9 3034.8L969.5 3029.8L982.8 3003.2L996 3025.8L1011 3021.6L1022.6 3018.2L1039.2 3018.2L1052.4 3013.2L1065.7 3004.9L1077.3 2963.4L1092.3 2986.7L1103.9 2986.7L1122.1 2978.3L1132.9 2973.3L1145.3 2970.2L1160.3 2958.4L1175.3 2957.4L1188.5 2958.4L1201.7 2953.6L1216.7 2945.2L1228.2 2941.6L1241.6 2936.9L1254.8 2923.7L1273.1 2928.7L1283.8 2925.7L1294.6 2921.9L1311.2 2912.1L1326.1 2907.2L1341.1 2902.1L1354.9 2892.2L1368.2 2893.8L1379.8 2888.8L1393.1 2878.8L1408.2 2875.4L1421.4 2870.1L1436.2 2867.2"/></g>
<g stroke="#0000ff" class="k"><path d="M679.8 3227.2L693.1 3218.9L709.7 3213.9L725.3 3204.8L739.5 3197.3L754.4 3188.9L770.3 3180.9L786 3174.2L803 3158.2L821.3 3137.8L836.2 3111.2L847.8 3068.2L857.8 2968.6L869.4 2869.1L883.1 2541.4L899.8 3016.8L916.4 3076.4L929.7 3098.1L947.9 3106.2L966.2 3111.2L979.4 3112.1L992.7 3111.2L1003.2 3109.5L1015.9 3106.2L1029.7 3104.2L1042.5 3102.9L1060.7 3102.9L1074 3094.7L1092.3 3016.8L1107.2 3025.1L1122.1 3056.6L1138.2 3056.5L1155.3 3056.6L1170.2 3051.6L1183.2 3048.6L1196.4 3043.3L1207 3040.7L1220.3 3038L1232.9 3033.9L1249.5 3024.1L1265.3 3019.5L1281.1 3016.8L1295.9 3012.4L1310.9 2995.2L1329.1 2999.2L1342 2995.7L1355.3 2993L1365.9 2987.7L1378.9 2985.8L1393.1 2976.8L1408.2 2971.8L1422.9 2968.7L1432 2963.9L1442.9 2958.7L1458.5 2955.9L1471.7 2950.7L1486 2947.1L1502.6 2937.1L1520.8 2933.8L1539.1 2920.4L1549 2921.4L1567.3 2918.2"/><path d="M679.8 3228.8L693.1 3220.4L709.7 3215.4L725.3 3206.3L739.5 3198.8L754.4 3190.4L770.3 3182.4L786 3175.7L803 3159.8L821.3 3139.3L836.2 3112.8L847.8 3069.7L857.8 2970.1L869.4 2870.6L883.1 2542.9L899.8 3018.2L916.4 3077.9L929.7 3099.6L947.9 3107.8L966.2 3112.8L979.4 3113.6L992.7 3112.8L1003.2 3111L1015.9 3107.8L1029.7 3105.7L1042.5 3104.4L1060.7 3104.4L1074 3096.2L1092.3 3018.2L1107.2 3026.6L1122.1 3058.1L1138.2 3058L1155.3 3058.1L1170.2 3053.1L1183.2 3050.1L1196.4 3044.8L1207 3042.2L1220.3 3039.5L1232.9 3035.4L1249.5 3025.6L1265.3 3021L1281.1 3018.3L1295.9 3013.9L1310.9 2996.7L1329.1 3000.7L1342 2997.2L1355.3 2994.5L1365.9 2989.2L1378.9 2987.3L1393.1 2978.3L1408.2 2973.3L1422.9 2970.2L1432 2965.4L1442.9 2960.2L1458.5 2957.4L1471.7 2952.2L1486 2948.6L1502.6 2938.6L1520.8 2935.2L1539.1 2921.9L1549 2922.9L1567.3 2919.7"/></g>
<g stroke="#000000" class="k"><path d="M810.9 3291.9L817.9 3289.5L825.9 3286.8L833.8 3284.2L841.7 3281.5L849.7 3276.2L857.6 3273.6L865.6 3272.1L875.6 3260.3L884.1 3257.7L892 3255.1L898.8 3253.8L908.8 3245.4L915.9 3241.8L922 3240.4L935.3 3228.8L955.2 3210.7L968.5 3192.3L976.1 3172.7L984.4 3117.9L991.1 3028.3L996 2928.8L1000.2 2818.4L1014.3 2928.8L1019.3 3028.3L1022.6 3111.2L1034.2 3149.4L1049.1 3166.1L1056.2 3170.4L1061.4 3173L1069 3175.9L1074.7 3175.6L1082.6 3175.6L1088.9 3175.9L1098.9 3170.9L1106.4 3170.4L1114.4 3170.4L1122.3 3167.7L1130.3 3165.1L1138.7 3166.1L1146.2 3162.4L1154.1 3159.8L1162 3157.1L1168.6 3154.3L1175.3 3151.8L1183.2 3149.2L1191.1 3149.2L1199.1 3146.5L1204.4 3142L1212.3 3141.2L1220.3 3138.6L1228.2 3135.9L1234.9 3132.8L1241.4 3130.7L1249.4 3128L1257.3 3125.4L1265.3 3125.4L1270.6 3120.9L1278.5 3117.4L1286.4 3114.8L1294.4 3112.1L1301.3 3111.2L1307.6 3106.8L1315.6 3106.8L1323.5 3104.2L1328.8 3104.2L1336.7 3098.9L1344.7 3098.9L1351 3094.7L1357.9 3090.9L1365.9 3088.3L1373.8 3085.7L1379.1 3083L1387 3080.4L1395 3077.7L1402.9 3077.7L1408.2 3073.2L1416.1 3072.4L1424.1 3067.1L1432 3064.5L1440 3061.8L1445.3 3061.8L1453.2 3059.2L1461.1 3053.9L1469.1 3051.2L1474.4 3048.6L1482.3 3045.9L1490.3 3043.3L1498.2 3040.7L1503.5 3038L1511.4 3035.4L1519.2 3032.3L1527.3 3030.1L1532.6 3027.4L1540.6 3022.1L1548.5 3022.1L1556.4 3019.5L1564.4 3016.8L1569.7 3016.8L1577.6 3011.5L1585.6 3008.9L1593.5 3008.9L1598.8 3004.4L1606.7 3000.9L1614.7 3000.9L1622.6 2998.3L1627.9 2993.8L1635.8 2993L1643.8 2987.7L1651.7 2987.7L1659.7 2985.1L1665 2982.4L1672.9 2979.8L1680.8 2977.1L1688.8 2974.5L1695 2971.9"/><path d="M810.9 3293.4L817.9 3291L825.9 3288.3L833.8 3285.7L841.7 3283L849.7 3277.7L857.6 3275.1L865.6 3273.6L875.6 3261.8L884.1 3259.2L892 3256.6L898.8 3255.2L908.8 3246.9L915.9 3243.3L922 3241.9L935.3 3230.3L955.2 3212.2L968.5 3193.8L976.1 3174.2L984.4 3119.4L991.1 3029.8L996 2930.2L1000.2 2819.9L1014.3 2930.2L1019.3 3029.8L1022.6 3112.8L1034.2 3150.9L1049.1 3167.6L1056.2 3171.9L1061.4 3174.5L1069 3177.4L1074.7 3177.1L1082.6 3177.1L1088.9 3177.4L1098.9 3172.4L1106.4 3171.9L1114.4 3171.9L1122.3 3169.2L1130.3 3166.6L1138.7 3167.6L1146.2 3163.9L1154.1 3161.3L1162 3158.6L1168.6 3155.8L1175.3 3153.3L1183.2 3150.7L1191.1 3150.7L1199.1 3148L1204.4 3143.5L1212.3 3142.7L1220.3 3140.1L1228.2 3137.4L1234.9 3134.3L1241.4 3132.2L1249.4 3129.5L1257.3 3126.9L1265.3 3126.9L1270.6 3122.4L1278.5 3118.9L1286.4 3116.3L1294.4 3113.6L1301.3 3112.8L1307.6 3108.3L1315.6 3108.3L1323.5 3105.7L1328.8 3105.7L1336.7 3100.4L1344.7 3100.4L1351 3096.2L1357.9 3092.4L1365.9 3089.8L1373.8 3087.2L1379.1 3084.5L1387 3081.9L1395 3079.2L1402.9 3079.2L1408.2 3074.7L1416.1 3073.9L1424.1 3068.6L1432 3066L1440 3063.3L1445.3 3063.3L1453.2 3060.7L1461.1 3055.4L1469.1 3052.7L1474.4 3050.1L1482.3 3047.4L1490.3 3044.8L1498.2 3042.2L1503.5 3039.5L1511.4 3036.9L1519.2 3033.8L1527.3 3031.6L1532.6 3028.9L1540.6 3023.6L1548.5 3023.6L1556.4 3021L1564.4 3018.3L1569.7 3018.3L1577.6 3013L1585.6 3010.4L1593.5 3010.4L1598.8 3005.9L1606.7 3002.4L1614.7 3002.4L1622.6 2999.8L1627.9 2995.3L1635.8 2994.5L1643.8 2989.2L1651.7 2989.2L1659.7 2986.6L1665 2983.9L1672.9 2981.3L1680.8 2978.6L1688.8 2976L1695 2973.4"/></g>
<g stroke="#0000ff" class="k"><path d="M948.6 3340.1L960.9 3337.1L975.1 3333.3L995 3323.4L1011.2 3318.6L1024.9 3310.2L1043.1 3305.2L1056.2 3297.4L1072 3286.8L1086.2 3278.7L1098.5 3273.6L1109.1 3268.3L1121.1 3262.1L1140 3241.3L1151.6 3228.1L1169.9 3188.2L1174.8 3111.9L1180.5 3009.2L1199.7 3020.8L1206.4 3111.9L1211.3 3171.7L1229.6 3196.6L1246.2 3206.6L1260 3207.4L1276 3206.6L1292.6 3202.2L1309.2 3202.2L1323.5 3196.8L1335.8 3194.2L1347.3 3191.5L1359 3188.2L1372.3 3184.2L1385.5 3175.1L1400.3 3170.4L1416.1 3165.1L1432 3161.8L1450.2 3151.2L1466.8 3151.2L1479.7 3146.5L1492.9 3143.9L1505 3140.2L1524.9 3128.6L1540.6 3122.7L1558.1 3118.7L1569.7 3114.8L1581.3 3108.7L1593.5 3104.2L1606.7 3101.5L1621.1 3098.7L1636.9 3088.1L1649.1 3085.7L1661.8 3083.1L1675.6 3077.7L1686.1 3069.8L1700 3063.2L1711.6 3064.8L1728.2 3059.8L1744.8 3049.8L1760.3 3045.9L1774.6 3043.2L1791.2 3031.7L1807.9 3027.4L1824.4 3025.1L1839.8 3017.1"/><path d="M948.6 3341.6L960.9 3338.6L975.1 3334.8L995 3324.9L1011.2 3320.1L1024.9 3311.7L1043.1 3306.7L1056.2 3298.9L1072 3288.3L1086.2 3280.2L1098.5 3275.1L1109.1 3269.8L1121.1 3263.6L1140 3242.8L1151.6 3229.6L1169.9 3189.8L1174.8 3113.4L1180.5 3010.7L1199.7 3022.2L1206.4 3113.4L1211.3 3173.2L1229.6 3198.1L1246.2 3208.1L1260 3208.9L1276 3208.1L1292.6 3203.8L1309.2 3203.8L1323.5 3198.3L1335.8 3195.8L1347.3 3193L1359 3189.8L1372.3 3185.8L1385.5 3176.6L1400.3 3171.9L1416.1 3166.6L1432 3163.2L1450.2 3152.7L1466.8 3152.7L1479.7 3148L1492.9 3145.4L1505 3141.7L1524.9 3130.1L1540.6 3124.2L1558.1 3120.2L1569.7 3116.3L1581.3 3110.2L1593.5 3105.7L1606.7 3103L1621.1 3100.2L1636.9 3089.6L1649.1 3087.2L1661.8 3084.6L1675.6 3079.2L1686.1 3071.3L1700 3064.7L1711.6 3066.3L1728.2 3061.3L1744.8 3051.3L1760.3 3047.4L1774.6 3044.8L1791.2 3033.2L1807.9 3028.9L1824.4 3026.6L1839.8 3018.6"/></g>
<g stroke="#ff00ff" class="k"><path d="M1082.9 3387.4L1097.9 3384.8L1117.8 3376.6L1133.2 3370.3L1151.4 3362.1L1168 3358.8L1184.6 3350.4L1199.5 3345.4L1216.1 3337.2L1232.7 3328.8L1249.3 3320.6L1266.1 3311.1L1275.9 3302.8L1287.5 3295.7L1302.6 3284.4L1320.8 3259.7L1334.1 3168.3L1350 3034.2L1367.3 3233.1L1385.5 3254.7L1402.1 3257.9L1413.5 3257.7L1426.7 3257.7L1438.6 3257.9L1448.6 3254.7L1461.1 3252.4L1471.7 3247.1L1485.1 3244.7L1501.7 3236.3L1514.1 3233.9L1527.3 3231.2L1537.9 3225.9L1551.4 3224.8L1571.3 3215.4L1585.6 3210.1L1601.2 3206.6L1618 3188.8L1636.3 3184.8L1651.9 3184.2L1662.3 3180.9L1675.6 3178.3L1686.1 3175.6L1699.4 3170.4L1710 3162.4L1723.2 3157.1L1735.8 3152.3L1752.3 3149.2L1769 3145.7L1788.9 3135.8L1805.5 3132.4L1822.1 3122.4L1837 3117.4L1852 3114.2L1871.9 3105.8L1887.3 3101.5L1904.5 3095.1L1916.4 3093.6L1927 3090.9L1939.4 3086.8L1953.5 3080.4L1969.2 3072.4"/><path d="M1082.9 3388.9L1097.9 3386.3L1117.8 3378.1L1133.2 3371.8L1151.4 3363.6L1168 3360.2L1184.6 3351.9L1199.5 3346.9L1216.1 3338.7L1232.7 3330.3L1249.3 3322.1L1266.1 3312.6L1275.9 3304.3L1287.5 3297.2L1302.6 3285.9L1320.8 3261.2L1334.1 3169.8L1350 3035.8L1367.3 3234.6L1385.5 3256.2L1402.1 3259.4L1413.5 3259.2L1426.7 3259.2L1438.6 3259.4L1448.6 3256.2L1461.1 3253.9L1471.7 3248.6L1485.1 3246.2L1501.7 3237.8L1514.1 3235.4L1527.3 3232.7L1537.9 3227.4L1551.4 3226.2L1571.3 3216.9L1585.6 3211.6L1601.2 3208.1L1618 3190.2L1636.3 3186.3L1651.9 3185.8L1662.3 3182.4L1675.6 3179.8L1686.1 3177.1L1699.4 3171.9L1710 3163.9L1723.2 3158.6L1735.8 3153.8L1752.3 3150.7L1769 3147.2L1788.9 3137.2L1805.5 3133.9L1822.1 3123.9L1837 3118.9L1852 3115.7L1871.9 3107.3L1887.3 3103L1904.5 3096.6L1916.4 3095.1L1927 3092.4L1939.4 3088.2L1953.5 3081.9L1969.2 3073.9"/></g>
<g stroke="#0000ff" class="k"><path d="M1225.4 3447.7L1238.8 3443L1252 3437.7L1265.3 3432.4L1275.9 3429.8L1289.1 3424.5L1302.3 3416.5L1315.7 3413.4L1328.8 3408.6L1342 3403.3L1357.9 3395.4L1371.1 3392.7L1384.4 3384.8L1397.6 3379.5L1410.9 3374.2L1425.1 3369.3L1437.3 3363.6L1448.6 3359.2L1461.1 3355.6L1471.6 3348.8L1482.3 3339.8L1492.5 3332.4L1514.8 3306.8L1536.9 3180.8L1558.8 3297.6L1572.3 3300.1L1584.6 3301.1L1596.1 3297.4L1607.8 3296.2L1626.4 3292.7L1641.1 3286.8L1657 3281.5L1671.1 3274.4L1686.1 3268.3L1702 3265.6L1715.9 3261.8L1731.1 3257.7L1744.4 3249.8L1757.6 3244.5L1770.8 3239.2L1785.6 3234.7L1803.9 3231.9L1815.8 3228.6L1829.1 3220.6L1842.3 3218L1852.9 3212.7L1866.1 3207.4L1879.4 3204.8L1891.8 3198.8L1905.8 3194.2L1919.1 3186.2L1935 3180.9L1948.2 3175.6L1962.6 3169.7L1974.7 3165.1L1988 3162.2L2007.9 3158.9L2019.7 3154.5L2032.9 3149.2L2046.1 3143.9L2060 3139.1L2072.6 3135.9L2083.2 3130.7L2096.4 3125.4L2107 3120.1L2120.2 3116.6"/><path d="M1225.4 3449.2L1238.8 3444.5L1252 3439.2L1265.3 3433.9L1275.9 3431.3L1289.1 3426L1302.3 3418L1315.7 3414.9L1328.8 3410.1L1342 3404.8L1357.9 3396.9L1371.1 3394.2L1384.4 3386.3L1397.6 3381L1410.9 3375.7L1425.1 3370.8L1437.3 3365.1L1448.6 3360.8L1461.1 3357.1L1471.6 3350.2L1482.3 3341.3L1492.5 3333.9L1514.8 3308.2L1536.9 3182.2L1558.8 3299.1L1572.3 3301.6L1584.6 3302.6L1596.1 3298.9L1607.8 3297.7L1626.4 3294.2L1641.1 3288.3L1657 3283L1671.1 3275.9L1686.1 3269.8L1702 3267.1L1715.9 3263.3L1731.1 3259.2L1744.4 3251.3L1757.6 3246L1770.8 3240.7L1785.6 3236.2L1803.9 3233.4L1815.8 3230.1L1829.1 3222.1L1842.3 3219.5L1852.9 3214.2L1866.1 3208.9L1879.4 3206.3L1891.8 3200.2L1905.8 3195.7L1919.1 3187.7L1935 3182.4L1948.2 3177.1L1962.6 3171.2L1974.7 3166.6L1988 3163.8L2007.9 3160.4L2019.7 3156L2032.9 3150.7L2046.1 3145.4L2060 3140.6L2072.6 3137.4L2083.2 3132.2L2096.4 3126.9L2107 3121.6L2120.2 3118.1"/></g>
<text x="352" y="3172.1" class="t" text-anchor="end">0</text>
<text x="352" y="2969.7" class="t" text-anchor="end">2000</text>
<text x="352" y="2767.3" class="t" text-anchor="end">4000</text>
<text x="352" y="2564.9" class="t" text-anchor="end">6000</text>
<text x="352" y="2361.3" class="t" text-anchor="end">8000</text>
<text x="354.9" y="3253.6" class="t" text-anchor="end">0</text>
<text x="489.5" y="3299.8" class="t" text-anchor="end">30</text>
<text x="620.8" y="3350.5" class="t" text-anchor="end">60</text>
<text x="755.7" y="3398.2" class="t" text-anchor="end">90</text>
<text x="888.8" y="3448.7" class="t" text-anchor="end">120</text>
<text x="1028.8" y="3500" class="t" text-anchor="end">150</text>
<text x="1161.5" y="3547.5" class="t" text-anchor="end">180</text>
<text x="1330" y="3583.1" class="t">0</text>
<text x="1633.1" y="3471.4" class="t">0.2</text>
<text x="1929.5" y="3364" class="t">0.4</text>
<text x="2227.5" y="3251.7" class="t">0.6</text>
<text x="112.6" y="2751.6" class="s" text-anchor="middle" transform="rotate(-90 112.6 2751.6)">Amplitude</text>
<text x="507.5" y="3469.1" class="s" transform="rotate(20 507.5 3469.1)">θ</text>
<text x="575.6" y="3518.4" class="s" transform="rotate(20 575.6 3518.4)">(deg)</text>
<text x="1892.9" y="3539.5" class="s" transform="rotate(-20 1892.9 3539.5)" style="font-size:108px">St</text>
<text x="1182" y="3827.5" class="c" text-anchor="middle">(<tspan font-weight="bold">b</tspan>)</text>
</g>
</svg>
</body></html>
